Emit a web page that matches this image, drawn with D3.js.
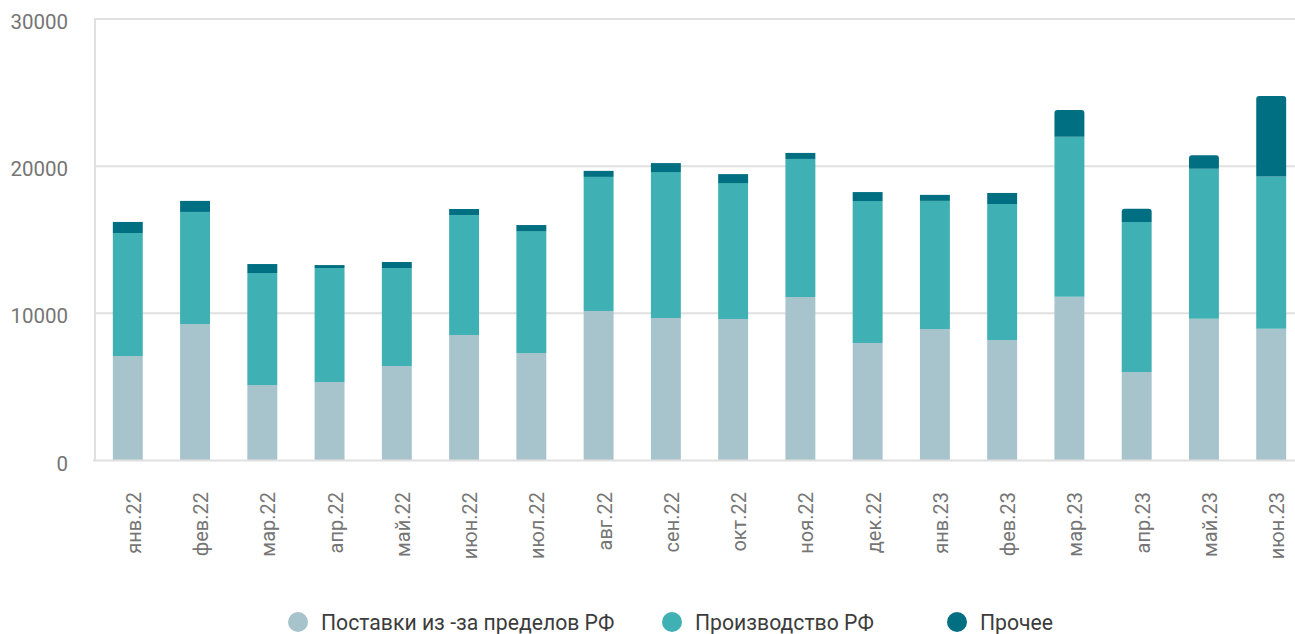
<!DOCTYPE html>
<html>
<head>
<meta charset="utf-8">
<script src="https://cdn.jsdelivr.net/npm/d3@7"></script>
<style>
  body { margin: 0; background: #fff; }
  svg { display: block; font-family: Roboto, "Noto Sans", sans-serif; }
</style>
</head>
<body>
<div id="chart"></div>
<script>
// Months
var months = ["янв.22", "фев.22", "мар.22", "апр.22", "май.22", "июн.22", "июл.22", "авг.22", "сен.22",
  "окт.22", "ноя.22", "дек.22", "янв.23", "фев.23", "мар.23", "апр.23", "май.23", "июн.23"];

// Series
var importVals = [7100, 9280, 5130, 5330, 6420, 8530, 7300, 10160, 9680, 9610, 11110, 7980, 8940, 8190, 11130, 6010, 9640, 8960];
var prodVals   = [8360, 7610, 7610, 7750, 6660, 8150, 8290, 9110, 9920, 9240, 9380, 9650, 8700, 9240, 10870, 10190, 10190, 10330];
var otherVals  = [750, 750, 610, 200, 410, 410, 410, 410, 610, 610, 410, 610, 410, 750, 1810, 900, 910, 5480];

var seriesNames = ["Поставки из -за пределов РФ", "Производство РФ", "Прочее"];
var seriesColors = ["#a7c3cb", "#3fb0b3", "#006f82"];
var yTicks = [0, 10000, 20000, 30000];

var W = 1295, H = 634;
var margin = {top: 19, left: 95};
var plotBottom = 460.5;

var svg = d3.select("#chart").append("svg")
  .attr("width", W).attr("height", H);

var x = d3.scaleBand().domain(months).range([94, 1305]).paddingInner(0.555).paddingOuter(0.28);
var y = d3.scaleLinear().domain([0, 30000]).range([plotBottom, margin.top]);

// gridlines
svg.append("g").selectAll("line").data(yTicks.slice(1)).enter().append("line")
  .attr("x1", margin.left).attr("x2", W)
  .attr("y1", function(d) { return y(d); }).attr("y2", function(d) { return y(d); })
  .attr("stroke", "#e0e0e0").attr("stroke-width", 2);

// y labels
svg.append("g").selectAll("text").data(yTicks).enter().append("text")
  .attr("x", 68).attr("y", function(d) { return y(d) + 3; })
  .attr("text-anchor", "end").attr("dominant-baseline", "central")
  .attr("font-size", 20.5).attr("fill", "#757575")
  .text(function(d) { return d; });

// stacked data
var rows = months.map(function(m, i) {
  return {month: m, s0: importVals[i], s1: prodVals[i], s2: otherVals[i], idx: i};
});
var stack = d3.stack().keys(["s0", "s1", "s2"]);
var layers = stack(rows);

svg.append("g").selectAll("g").data(layers).enter().append("g")
  .attr("fill", function(d, i) { return seriesColors[i]; })
  .each(function(layer, li) {
    d3.select(this).selectAll("path").data(layer).enter().append("path")
      .attr("d", function(d) {
        var x0 = x(d.data.month), w = x.bandwidth();
        var y0 = y(d[1]), y1 = y(d[0]);
        // rounded top only on the last bars
        var r = (li === 2 && d.data.idx >= 14) ? 3 : 0;
        var p = d3.path();
        p.moveTo(x0, y1);
        p.lineTo(x0, y0 + r);
        if (r) p.arcTo(x0, y0, x0 + r, y0, r);
        p.lineTo(x0 + w - r, y0);
        if (r) p.arcTo(x0 + w, y0, x0 + w, y0 + r, r);
        p.lineTo(x0 + w, y1);
        p.closePath();
        return p.toString();
      });
  });

// axes lines
svg.append("line").attr("x1", margin.left).attr("x2", margin.left)
  .attr("y1", margin.top - 1).attr("y2", plotBottom + 1)
  .attr("stroke", "#e0e0e0").attr("stroke-width", 2);
svg.append("line").attr("x1", 93).attr("x2", W)
  .attr("y1", plotBottom).attr("y2", plotBottom)
  .attr("stroke", "#e0e0e0").attr("stroke-width", 2);

// x labels
svg.append("g").selectAll("text").data(months).enter().append("text")
  .attr("transform", function(d) {
    return "translate(" + (x(d) + x.bandwidth() / 2 + 6) + ",492) rotate(-90)";
  })
  .attr("text-anchor", "end").attr("dominant-baseline", "central")
  .attr("font-size", 20).attr("fill", "#757575")
  .text(function(d) { return d; });

// legend
var legendX = [298, 672, 957];
var lg = svg.append("g").selectAll("g").data(seriesNames).enter().append("g")
  .attr("transform", function(d, i) { return "translate(" + legendX[i] + ",622)"; });
lg.append("circle").attr("r", 10).attr("fill", function(d, i) { return seriesColors[i]; });
lg.append("text").attr("x", 23).attr("dominant-baseline", "central")
  .attr("font-size", 21.2).attr("fill", "#3c3c3c")
  .text(function(d) { return d; });
</script>
</body>
</html>
